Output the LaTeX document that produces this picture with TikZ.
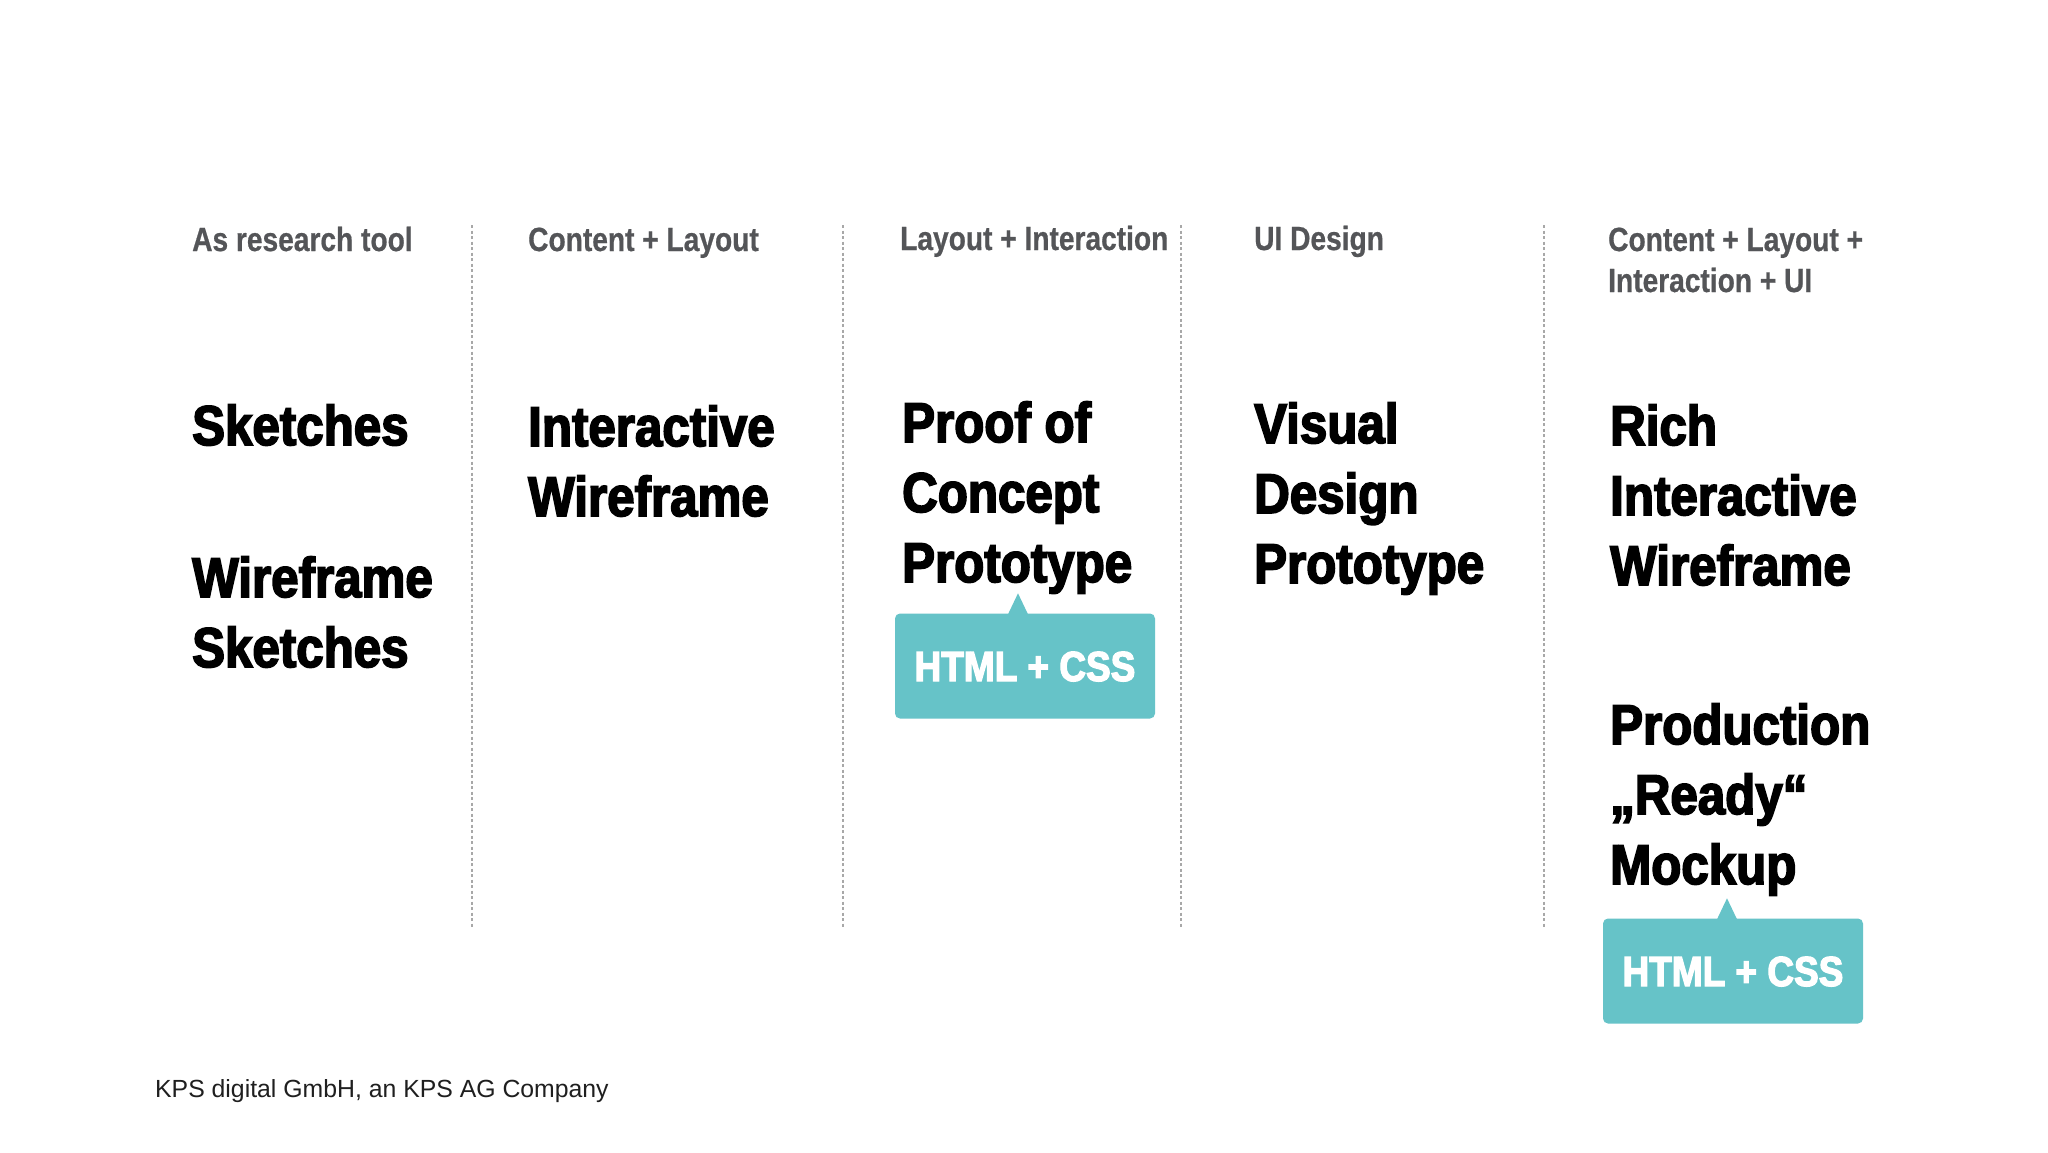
\documentclass[tikz,border=0pt]{standalone}
\usepackage{fontspec}
\setmainfont{Liberation Sans}
\newfontfamily\headfont[FakeStretch=0.84,FakeBold=0.6]{Liberation Sans Bold}
\newfontfamily\bigfont[FakeStretch=0.88,FakeBold=3]{Liberation Sans Bold}
\definecolor{charcoal}{RGB}{84, 85, 88}
\definecolor{aqua}{RGB}{102, 195, 200}
\definecolor{silver}{RGB}{168, 168, 168}

\tikzset{
  head/.style={anchor=base west, inner sep=0pt, align=left, text=charcoal,
               font=\headfont\fontsize{33.5}{41}\selectfont},
  bigtext/.style={anchor=base west, inner sep=0pt, align=left,
               font=\bigfont\fontsize{56}{70}\selectfont},
  tagbox/.style={fill=aqua, rounded corners=5pt, minimum width=260pt, minimum height=105pt,
               inner sep=0pt, text=white, text height=30pt, text depth=0pt,
               font=\bigfont\fontsize{42}{42}\selectfont},
  divider/.style={silver, line width=1.6pt, dash pattern=on 3pt off 2.5pt}
}

\begin{document}
\begin{tikzpicture}[x=1pt, y=-1pt]
            % Page
            \fill[white] (0, 0) rectangle (2048, 1152);
            \useasboundingbox (0, 0) rectangle (2048, 1152);
            % Dividers
            \draw[divider] ( 472, 225) -- ( 472, 927);
            \draw[divider] ( 843, 225) -- ( 843, 927);
            \draw[divider] (1181, 225) -- (1181, 927);
            \draw[divider] (1544, 225) -- (1544, 927);
            % Column heads (placed at the baseline of the last line)
            \node[head] (headA) at ( 192, 251) {As research tool};
            \node[head] (headB) at ( 528, 251) {Content + Layout};
            \node[head] (headC) at ( 900, 250) {Layout + Interaction};
            \node[head] (headD) at (1254, 250) {UI Design};
            \node[head] (headE) at (1608, 292) {Content + Layout +\\Interaction + UI};
            % Column 1
            \node[bigtext] (sketches)   at ( 192, 445) {Sketches};
            \node[bigtext] (wfsketches) at ( 192, 667) {Wireframe\\Sketches};
            % Column 2
            \node[bigtext] (interwf)    at ( 528, 516) {Interactive\\Wireframe};
            % Column 3
            \node[bigtext] (poc)        at ( 902, 582) {Proof of\\Concept\\Prototype};
            \node[tagbox]  (tagpoc)     at (1025, 666) {HTML + CSS};
            \fill[aqua] ([xshift=-17pt, yshift=-1pt]tagpoc.north) -- ++(10, -21) -- ++(10, 21) -- cycle;
            % Column 4
            \node[bigtext] (visual)     at (1254, 583) {Visual\\Design\\Prototype};
            % Column 5
            \node[bigtext] (richwf)     at (1610, 585) {Rich\\Interactive\\Wireframe};
            \node[bigtext] (mockup)     at (1610, 884) {Production\\„Ready“\\Mockup};
            \node[tagbox]  (tagmockup)  at (1733, 971) {HTML + CSS};
            \fill[aqua] ([xshift=-16pt, yshift=-1pt]tagmockup.north) -- ++(10, -21) -- ++(10, 21) -- cycle;
            % Footer
            \node[anchor=base west, inner sep=0pt, text=black!88, font=\fontsize{24.8}{28}\selectfont]
                 (footer) at (155, 1097) {KPS digital GmbH, an KPS AG Company};
\end{tikzpicture}
\end{document}
